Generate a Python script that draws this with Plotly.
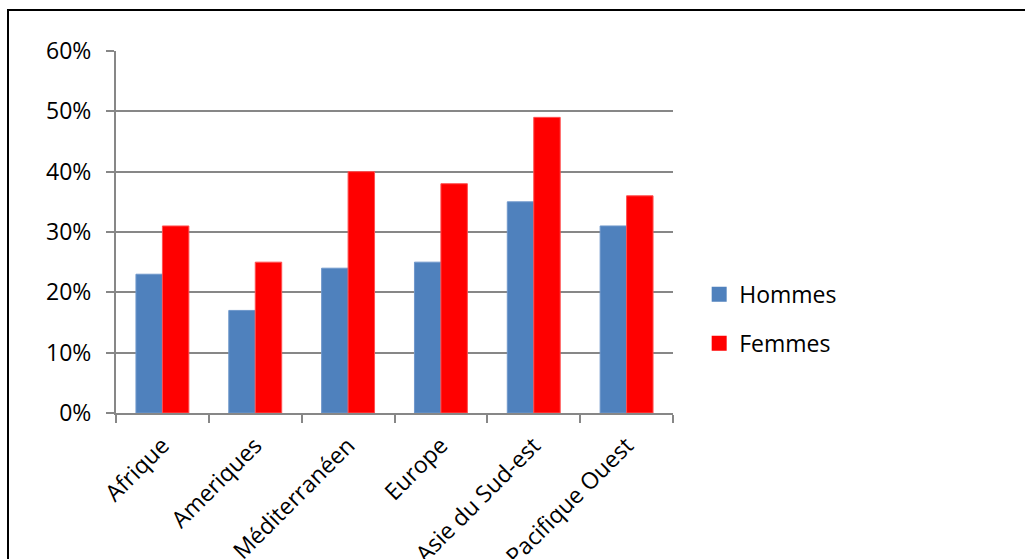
import plotly.graph_objects as go

categories = ["Afrique", "Ameriques", "Méditerranéen", "Europe", "Asie du Sud-est", "Pacifique Ouest"]
hommes = [0.23, 0.17, 0.24, 0.25, 0.35, 0.31]
femmes = [0.31, 0.25, 0.40, 0.38, 0.49, 0.36]
series_names = ["Hommes", "Femmes"]
series_colors = ["#4F81BD", "#FF0000"]

FONT = "Open Sans"
GRAY = "#878787"
FS = 23

fig = go.Figure()
fig.add_trace(go.Bar(x=categories, y=hommes, name=series_names[0], showlegend=False,
                     marker=dict(color=series_colors[0], line=dict(color="#6F97CB", width=1))))
fig.add_trace(go.Bar(x=categories, y=femmes, name=series_names[1], showlegend=False,
                     marker=dict(color=series_colors[1], line=dict(color="#FF5050", width=1))))
# legend entries with larger square swatches
for i, (nm, col) in enumerate(zip(series_names, series_colors)):
    fig.add_trace(go.Scatter(x=[None], y=[None], mode="markers", name=nm,
                             legendgroup=f"g{i}",
                             marker=dict(symbol="square", size=15, color=col)))

fig.update_layout(
    width=1025, height=559,
    margin=dict(l=116, r=352, t=51, b=146),
    paper_bgcolor="white", plot_bgcolor="white",
    barmode="group", bargap=0.43, bargroupgap=0,
    font=dict(family=FONT, size=FS, color="black"),
    showlegend=True,
    legend=dict(x=1.047, y=0.26, xanchor="left", yanchor="middle",
                traceorder="grouped", tracegroupgap=16,
                font=dict(family=FONT, size=FS), itemwidth=30),
    xaxis=dict(showline=True, linecolor=GRAY, linewidth=2, ticks="outside",
               tickson="boundaries", ticklen=8, tickcolor=GRAY, tickwidth=2,
               tickangle=-45, automargin=False, showgrid=False,
               ticklabelstandoff=8,
               tickfont=dict(family=FONT, size=FS)),
    yaxis=dict(range=[0, 0.6], dtick=0.1, tickformat=".0%", showline=True,
               linecolor=GRAY, linewidth=2, ticks="outside", ticklen=8,
               tickcolor=GRAY, tickwidth=2, showgrid=True, gridcolor=GRAY,
               gridwidth=2, zeroline=False, automargin=False,
               ticklabelstandoff=10, tickfont=dict(family=FONT, size=FS)),
    shapes=[dict(type="rect", xref="paper", yref="paper",
                 x0=(8 - 116) / 557, x1=1.8, y0=-0.6, y1=(413 - 10) / 362,
                 line=dict(color="black", width=2), fillcolor="rgba(0,0,0,0)",
                 layer="below")],
)

fig.write_html("out.html")
